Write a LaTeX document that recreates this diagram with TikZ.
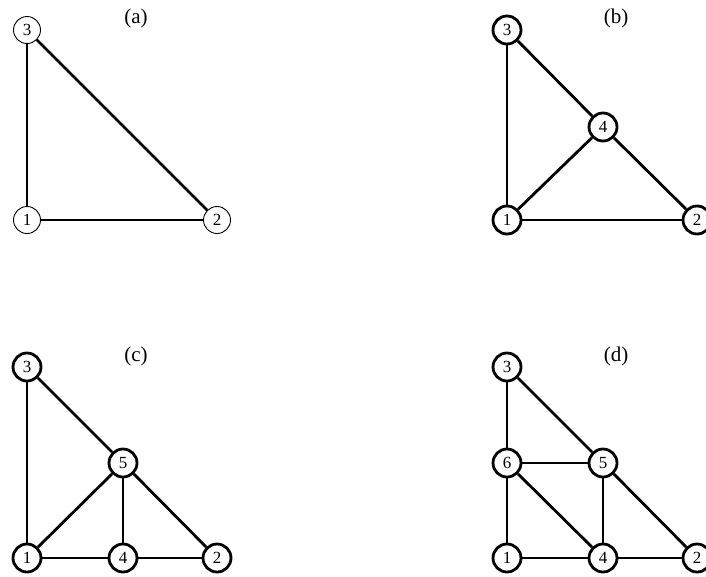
\documentclass[tikz,border=0pt]{standalone}
\usepackage{fontspec}
\setmainfont{Liberation Serif}
\begin{document}
\begin{tikzpicture}[x=1pt,y=-1pt,
  vtx/.style={circle,draw,line width=2.8pt,fill=white,minimum size=28pt,inner sep=0pt,font=\fontsize{17}{17}\selectfont},
  vtxthin/.style={vtx,line width=0.9pt,minimum size=27pt},
  edge/.style={line width=2.8pt},
  lbl/.style={font=\fontsize{21}{21}\selectfont}]
\useasboundingbox (0,0) rectangle (706,576);
% (a)
\node[lbl] (la) at (136,18) {(a)};
\node[vtxthin] (a3) at (27,30) {3};
\node[vtxthin] (a1) at (27,220) {1};
\node[vtxthin] (a2) at (217,220) {2};
\draw[edge] (a3) -- (a1);
\draw[edge] (a1) -- (a2);
\draw[edge] (a3) -- (a2);
% (b)
\node[lbl] (lb) at (616,18) {(b)};
\node[vtx] (b3) at (507,30) {3};
\node[vtx] (b1) at (507,220) {1};
\node[vtx] (b2) at (697,220) {2};
\node[vtx] (b4) at (603,127) {4};
\draw[edge] (b3) -- (b1);
\draw[edge] (b1) -- (b2);
\draw[edge] (b3) -- (b4);
\draw[edge] (b4) -- (b2);
\draw[edge] (b1) -- (b4);
% (c)
\node[lbl] (lc) at (136,356) {(c)};
\node[vtx] (c3) at (27,367) {3};
\node[vtx] (c1) at (27,558) {1};
\node[vtx] (c2) at (217,558) {2};
\node[vtx] (c4) at (123,558) {4};
\node[vtx] (c5) at (123,463) {5};
\draw[edge] (c3) -- (c1);
\draw[edge] (c1) -- (c4);
\draw[edge] (c4) -- (c2);
\draw[edge] (c3) -- (c5);
\draw[edge] (c5) -- (c2);
\draw[edge] (c1) -- (c5);
\draw[edge] (c5) -- (c4);
% (d)
\node[lbl] (ld) at (616,356) {(d)};
\node[vtx] (d3) at (507,367) {3};
\node[vtx] (d6) at (507,463) {6};
\node[vtx] (d5) at (603,463) {5};
\node[vtx] (d1) at (507,558) {1};
\node[vtx] (d4) at (603,558) {4};
\node[vtx] (d2) at (697,558) {2};
\draw[edge] (d3) -- (d6);
\draw[edge] (d6) -- (d1);
\draw[edge] (d1) -- (d4);
\draw[edge] (d4) -- (d2);
\draw[edge] (d3) -- (d5);
\draw[edge] (d5) -- (d2);
\draw[edge] (d6) -- (d5);
\draw[edge] (d5) -- (d4);
\draw[edge] (d6) -- (d4);
\end{tikzpicture}
\end{document}
